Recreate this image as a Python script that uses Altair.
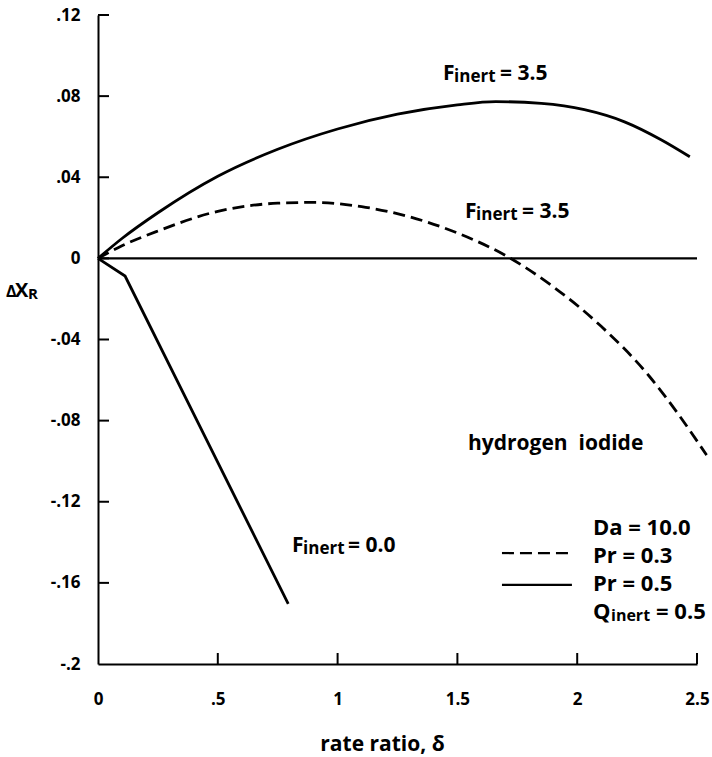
import altair as alt
import pandas as pd

FONT = "Open Sans"

# Pr = 0.5, F_inert = 3.5 (upper solid curve)
pr05_f35_delta = [0.0, 0.1, 0.25, 0.5, 0.75, 1.0, 1.25, 1.5, 1.66, 1.85, 2.03, 2.2, 2.35, 2.47]
pr05_f35_dx = [0.0, 0.0098, 0.0225, 0.0405, 0.0538, 0.0638, 0.0711, 0.0757, 0.0773, 0.0764, 0.0733, 0.0672, 0.0585, 0.0501]

# Pr = 0.3, F_inert = 3.5 (dashed curve)
pr03_f35_delta = [0.0, 0.1, 0.25, 0.5, 0.75, 0.9, 1.1, 1.3, 1.5, 1.71, 1.9, 2.1, 2.3, 2.42, 2.54]
pr03_f35_dx = [0.0, 0.0062, 0.0135, 0.0232, 0.0272, 0.0276, 0.0255, 0.0205, 0.0125, 0.0008, -0.014, -0.0335, -0.058, -0.0765, -0.097]

# Pr = 0.5, F_inert = 0.0 (lower solid curve)
pr05_f00_delta = [0.0, 0.113, 0.794]
pr05_f00_dx = [0.0, -0.0087, -0.1704]

# zero reference line
zero_delta = [0.0, 2.5]
zero_dx = [0.0, 0.0]

x_ticks = [0, 0.5, 1, 1.5, 2, 2.5]
y_ticks = [-0.2, -0.16, -0.12, -0.08, -0.04, 0, 0.04, 0.08, 0.12]

xs = alt.Scale(domain=[0, 2.5], nice=False, zero=False)
ys = alt.Scale(domain=[-0.2, 0.12], nice=False, zero=False)

x_axis = alt.Axis(
    values=x_ticks,
    labelExpr="replace(format(datum.value, '~g'), '0.', '.')",
    title="rate ratio, δ",
    titleX=284, titleY=86, titleAlign="center", titleBaseline="alphabetic",
    titleFontSize=21, titleFont=FONT, titleFontWeight="bold", titleColor="black",
    labelPadding=27, labelFlush=False,
)
y_axis = alt.Axis(
    values=y_ticks,
    labelExpr="datum.value == 0 ? '0' : (datum.value < 0 ? '-' : '') + replace(format(abs(datum.value), '.2~f'), '0.', '.')",
    title=None, labelPadding=18, labelFlush=False,
)


def line_df(d, v):
    return pd.DataFrame({"delta": d, "dx": v})


def curve(d, v, dash=None, width=2.8, interp="monotone"):
    kw = dict(color="black", strokeWidth=width, interpolate=interp, strokeCap="butt")
    if dash:
        kw["strokeDash"] = dash
    return alt.Chart(line_df(d, v)).mark_line(**kw).encode(
        x=alt.X("delta:Q", scale=xs, axis=x_axis),
        y=alt.Y("dx:Q", scale=ys, axis=y_axis),
    )


one = pd.DataFrame({"k": [0]})


def txt(x, y, s, size, dx=0, dy=0, align="left"):
    return alt.Chart(one).mark_text(
        text=s, fontSize=size, font=FONT, fontWeight="bold", align=align,
        baseline="alphabetic", dx=dx, dy=dy, color="black",
    ).encode(x=alt.datum(x, scale=xs), y=alt.datum(y, scale=ys))


def key(x1, x2, y, dash=None):
    kw = dict(color="black", strokeWidth=2.2)
    if dash:
        kw["strokeDash"] = dash
    return alt.Chart(one).mark_rule(**kw).encode(
        x=alt.datum(x1, scale=xs), x2=alt.datum(x2), y=alt.datum(y, scale=ys)
    )


xt = pd.DataFrame({"t": x_ticks[1:]})
yt = pd.DataFrame({"t": y_ticks[1:]})
x_tick_marks = alt.Chart(xt).mark_rule(color="black", strokeWidth=2).encode(
    x=alt.X("t:Q", scale=xs), y=alt.value(649), y2=alt.value(638)
)
y_tick_marks = alt.Chart(yt).mark_rule(color="black", strokeWidth=2).encode(
    y=alt.Y("t:Q", scale=ys), x=alt.value(0), x2=alt.value(11)
)

layers = [
    curve(zero_delta, zero_dx, width=2.2, interp="linear"),
    curve(pr05_f35_delta, pr05_f35_dx),
    curve(pr03_f35_delta, pr03_f35_dx, dash=[12, 6]),
    curve(pr05_f00_delta, pr05_f00_dx, interp="linear"),
    x_tick_marks,
    y_tick_marks,
    # F_inert = 3.5 (upper)
    txt(1.44, 0.088, "F", 21),
    txt(1.44, 0.088, "inert", 17, dx=11, dy=2),
    txt(1.44, 0.088, "= 3.5", 21, dx=57),
    # F_inert = 3.5 (dashed)
    txt(1.532, 0.02, "F", 21),
    txt(1.532, 0.02, "inert", 17, dx=11, dy=2),
    txt(1.532, 0.02, "= 3.5", 21, dx=57),
    # F_inert = 0.0
    txt(0.81, -0.1448, "F", 21),
    txt(0.81, -0.1448, "inert", 17, dx=11, dy=2),
    txt(0.81, -0.1448, "= 0.0", 21, dx=56),
    txt(1.544, -0.0945, "hydrogen\u00a0\u00a0iodide", 21),
    # legend block
    txt(2.066, -0.1364, "Da = 10.0", 22),
    txt(2.066, -0.1502, "Pr = 0.3", 22),
    txt(2.066, -0.1640, "Pr = 0.5", 22),
    txt(2.066, -0.1778, "Q", 22),
    txt(2.066, -0.1778, "inert", 16, dx=18, dy=2),
    txt(2.066, -0.1778, "= 0.5", 22, dx=63),
    key(1.686, 1.978, -0.1453, dash=[12, 6]),
    key(1.686, 1.978, -0.161),
    # y axis title  ΔX_R
    txt(-0.384, -0.019, "Δ", 16),
    txt(-0.384, -0.019, "X", 20, dx=9),
    txt(-0.384, -0.019, "R", 15, dx=22, dy=2),
]

chart = alt.layer(*layers).properties(
    width=599, height=649,
    padding={"left": 98, "top": 15, "right": 15, "bottom": 93},
    autosize=alt.AutoSizeParams(type="none"),
    background="white",
).configure_view(stroke=None).configure_axis(
    domainColor="black", domainWidth=2, ticks=False, tickSize=0, grid=False,
    labelColor="black", labelFont=FONT, labelFontWeight="bold", labelFontSize=17,
)

chart.save("out.html", embed_options={"renderer": "svg", "actions": False})
